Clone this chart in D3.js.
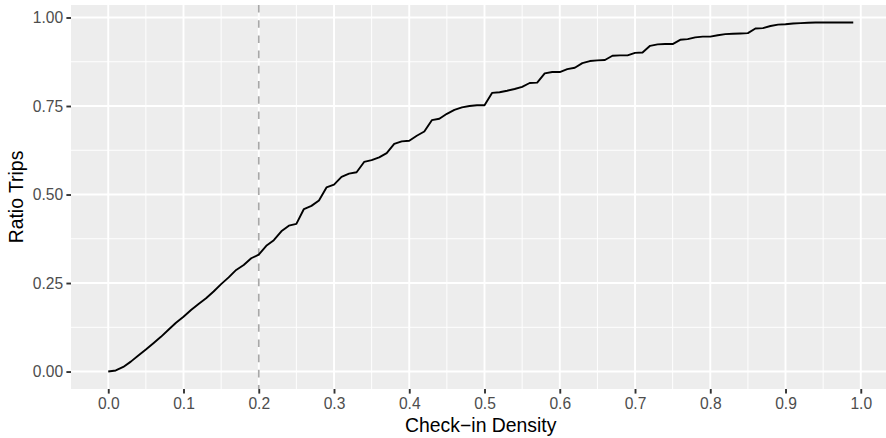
<!DOCTYPE html>
<html>
<head>
<meta charset="utf-8">
<script src="https://cdn.jsdelivr.net/npm/d3@7"></script>
<style>
  html, body { margin: 0; padding: 0; background: #fff; }
  svg { display: block; font-family: "Liberation Sans", Arial, sans-serif; }
</style>
</head>
<body>
<svg id="chart" width="886" height="438"></svg>
<script>
// ---- data ----
const density = d3.range(100).map(i => +(i / 100).toFixed(2));
const ratioTrips = [
  0.000, 0.003, 0.013, 0.028, 0.045, 0.062, 0.080, 0.098, 0.118, 0.138,
  0.155, 0.174, 0.191, 0.207, 0.226, 0.247, 0.266, 0.287, 0.301, 0.320,
  0.330, 0.355, 0.371, 0.396, 0.412, 0.417, 0.459, 0.468, 0.483, 0.520,
  0.528, 0.550, 0.559, 0.563, 0.592, 0.597, 0.605, 0.617, 0.643, 0.650,
  0.652, 0.666, 0.678, 0.710, 0.714, 0.728, 0.739, 0.746, 0.750, 0.752,
  0.752, 0.787, 0.789, 0.793, 0.798, 0.804, 0.815, 0.816, 0.842, 0.846,
  0.846, 0.854, 0.858, 0.871, 0.877, 0.879, 0.880, 0.892, 0.893, 0.893,
  0.900, 0.901, 0.920, 0.924, 0.925, 0.925, 0.937, 0.939, 0.944, 0.946,
  0.946, 0.950, 0.953, 0.954, 0.955, 0.956, 0.969, 0.970, 0.976, 0.980,
  0.981, 0.983, 0.984, 0.985, 0.986, 0.986, 0.986, 0.986, 0.986, 0.986
];
const xTicks = [0, 0.1, 0.2, 0.3, 0.4, 0.5, 0.6, 0.7, 0.8, 0.9, 1.0];
const xMinor = [0.05, 0.15, 0.25, 0.35, 0.45, 0.55, 0.65, 0.75, 0.85, 0.95];
const yTicks = [0, 0.25, 0.5, 0.75, 1.0];
const yMinor = [0.125, 0.375, 0.625, 0.875];
const vLine = 0.2;
const xTitle = "Check\u2212in Density";
const yTitle = "Ratio Trips";

// ---- layout ----
const panel = { left: 71, top: 5, right: 890.5, bottom: 389 };
const xExt = d3.extent(density), yExt = d3.extent(ratioTrips);
const xPad = (xExt[1] - xExt[0]) * 0.05, yPad = (yExt[1] - yExt[0]) * 0.05;

const x = d3.scaleLinear().domain([xExt[0] - xPad, xExt[1] + xPad]).range([panel.left, panel.right]);
const y = d3.scaleLinear().domain([yExt[0] - yPad, yExt[1] + yPad]).range([panel.bottom, panel.top]);

const svg = d3.select("#chart");

svg.append("rect")
  .attr("x", panel.left).attr("y", panel.top)
  .attr("width", panel.right - panel.left).attr("height", panel.bottom - panel.top)
  .attr("fill", "#EDEDED");

const grid = svg.append("g");
grid.selectAll(".xminor").data(xMinor).join("line")
  .attr("x1", d => x(d)).attr("x2", d => x(d))
  .attr("y1", panel.top).attr("y2", panel.bottom)
  .attr("stroke", "#fff").attr("stroke-width", 0.95);
grid.selectAll(".yminor").data(yMinor).join("line")
  .attr("y1", d => y(d)).attr("y2", d => y(d))
  .attr("x1", panel.left).attr("x2", panel.right)
  .attr("stroke", "#fff").attr("stroke-width", 0.95);
grid.selectAll(".xmajor").data(xTicks).join("line")
  .attr("x1", d => x(d)).attr("x2", d => x(d))
  .attr("y1", panel.top).attr("y2", panel.bottom)
  .attr("stroke", "#fff").attr("stroke-width", 1.9);
grid.selectAll(".ymajor").data(yTicks).join("line")
  .attr("y1", d => y(d)).attr("y2", d => y(d))
  .attr("x1", panel.left).attr("x2", panel.right)
  .attr("stroke", "#fff").attr("stroke-width", 1.9);

// dashed reference line
svg.append("line")
  .attr("x1", x(vLine)).attr("x2", x(vLine))
  .attr("y1", panel.top).attr("y2", panel.bottom)
  .attr("stroke", "#A8A8A8").attr("stroke-width", 1.7)
  .attr("stroke-dasharray", "7.6,7.6");

// data line
const data = density.map((d, i) => ({ x: d, y: ratioTrips[i] }));
svg.append("path")
  .datum(data)
  .attr("fill", "none")
  .attr("stroke", "#000")
  .attr("stroke-width", 1.9)
  .attr("stroke-linejoin", "round")
  .attr("d", d3.line().x(d => x(d.x)).y(d => y(d.y)));

// axes
const xAxis = svg.append("g")
  .attr("transform", `translate(0,${panel.bottom})`)
  .call(d3.axisBottom(x).tickValues(xTicks).tickFormat(d3.format(".1f")).tickSizeOuter(0).tickSize(4.6).tickPadding(3.9));
xAxis.select(".domain").remove();
xAxis.selectAll(".tick line").attr("stroke", "#333333").attr("stroke-width", 1.9);
xAxis.selectAll(".tick text").attr("fill", "#4D4D4D").style("font-size", "15.6px");

const yAxis = svg.append("g")
  .attr("transform", `translate(${panel.left},0)`)
  .call(d3.axisLeft(y).tickValues(yTicks).tickFormat(d3.format(".2f")).tickSizeOuter(0).tickSize(4.6).tickPadding(3.2));
yAxis.select(".domain").remove();
yAxis.selectAll(".tick line").attr("stroke", "#333333").attr("stroke-width", 1.9);
yAxis.selectAll(".tick text").attr("fill", "#4D4D4D").style("font-size", "15.6px");

// titles
svg.append("text")
  .attr("x", (panel.left + panel.right) / 2).attr("y", 431.5)
  .attr("text-anchor", "middle").attr("fill", "#000")
  .style("font-size", "19.4px")
  .text(xTitle);
svg.append("text")
  .attr("transform", `translate(22.5,${(panel.top + panel.bottom) / 2}) rotate(-90)`)
  .attr("text-anchor", "middle").attr("fill", "#000")
  .style("font-size", "19.4px")
  .text(yTitle);
</script>
</body>
</html>
